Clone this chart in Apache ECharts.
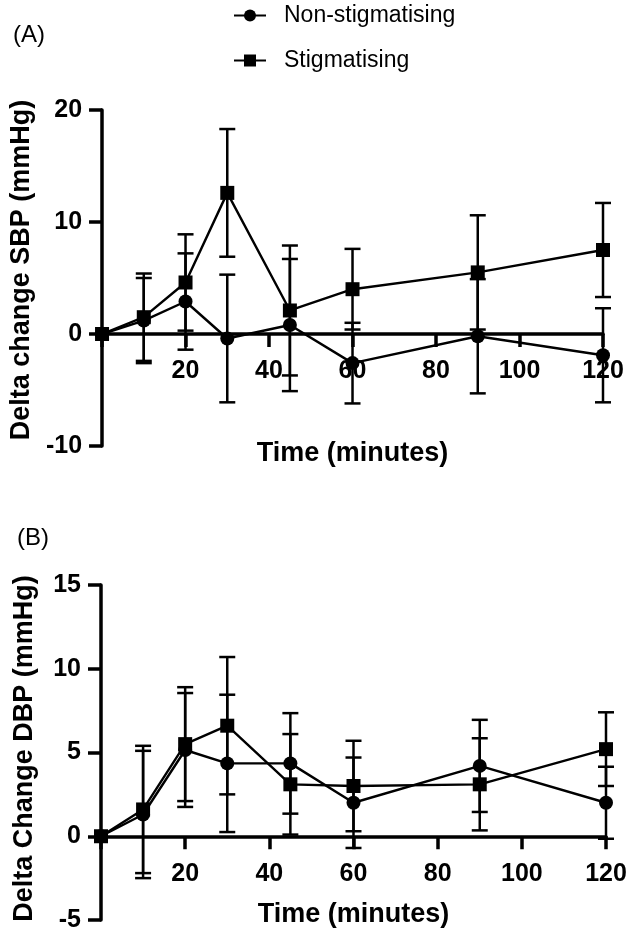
<!DOCTYPE html>
<html>
<head>
<meta charset="utf-8">
<script src="https://cdn.jsdelivr.net/npm/echarts@6/dist/echarts.min.js"></script>
<style>
  html, body { margin: 0; padding: 0; background: #fff; }
  #chart { width: 630px; height: 934px; }
</style>
</head>
<body>
<div id="chart"></div>
<script>
// time points (minutes)
const times = [0, 10, 20, 30, 45, 60, 90, 120]

// (A) delta SBP
const sbpNonStig = [0, 1.2, 2.9, -0.4, 0.8, -2.6, -0.2, -1.9]
const sbpNonStigErr = [0, 3.8, 4.3, 5.7, 5.9, 3.6, 5.1, 4.2]
const sbpStig = [0, 1.5, 4.6, 12.6, 2.1, 4.0, 5.5, 7.5]
const sbpStigErr = [0, 3.9, 4.3, 5.7, 5.8, 3.6, 5.1, 4.2]

// (B) delta DBP
const dbpNonStig = [0, 1.3, 5.15, 4.35, 4.35, 2.0, 4.2, 2.0]
const dbpNonStigErr = [0, 3.8, 3.4, 4.1, 3.0, 2.7, 2.75, 2.15]
const dbpStig = [0, 1.6, 5.5, 6.6, 3.1, 3.0, 3.1, 5.2]
const dbpStigErr = [0, 3.8, 3.4, 4.1, 3.0, 2.7, 2.75, 2.2]

const FONT = 'Liberation Sans'
const chart = echarts.init(document.getElementById('chart'))

const pairs = (vals) => times.map((t, i) => [t, vals[i]])
const errData = (vals, errs) => times
  .map((t, i) => [t, vals[i] - errs[i], vals[i] + errs[i]])
  .filter(d => d[2] > d[1])

const renderErr = (params, api) => {
  const lo = api.coord([api.value(0), api.value(1)])
  const hi = api.coord([api.value(0), api.value(2)])
  const w = 8
  const style = { stroke: '#000', lineWidth: 2.5 }
  return {
    type: 'group',
    children: [
      { type: 'line', shape: { x1: lo[0], y1: lo[1], x2: hi[0], y2: hi[1] }, style },
      { type: 'line', shape: { x1: lo[0] - w, y1: lo[1], x2: lo[0] + w, y2: lo[1] }, style },
      { type: 'line', shape: { x1: hi[0] - w, y1: hi[1], x2: hi[0] + w, y2: hi[1] }, style }
    ]
  }
}

const axisLine = { lineStyle: { color: '#000', width: 3.5 } }
const axisTick = { length: 13, lineStyle: { color: '#000', width: 3.5 } }
const tickLabel = { color: '#000', fontFamily: FONT, fontWeight: 'bold', fontSize: 25 }
const nameStyle = { color: '#000', fontFamily: FONT, fontWeight: 'bold', fontSize: 27 }

// line + ticks on the zero line
const xAxisLine = (gridIndex) => ({
  type: 'value',
  gridIndex,
  position: 'bottom',
  min: 0,
  max: 120,
  interval: 20,
  axisLine: { ...axisLine, onZero: true },
  axisTick,
  axisLabel: { show: false },
  splitLine: { show: false }
})

// labels + title, shifted up from the grid bottom to the zero line
const xAxisText = (gridIndex, offset, gap) => ({
  type: 'value',
  gridIndex,
  position: 'bottom',
  min: 0,
  max: 120,
  interval: 20,
  offset,
  name: 'Time (minutes)',
  nameLocation: 'middle',
  nameGap: gap,
  nameTextStyle: nameStyle,
  axisLine: { show: false, onZero: false },
  axisTick: { show: false },
  axisLabel: { ...tickLabel, margin: 25, showMinLabel: false },
  splitLine: { show: false }
})

const yAxisFor = (gridIndex, min, max, interval, name, shift) => ({
  type: 'value',
  gridIndex,
  min,
  max,
  interval,
  name,
  nameLocation: 'middle',
  nameRotate: 90,
  nameGap: 63,
  nameTextStyle: { ...nameStyle, padding: [0, 0, 0, shift] },
  axisLine: { show: true, ...axisLine },
  axisTick: { show: true, ...axisTick },
  axisLabel: { ...tickLabel, margin: 20 },
  splitLine: { show: false }
})

const lineSeries = (name, symbol, data, idx) => ({
  name,
  type: 'line',
  xAxisIndex: idx,
  yAxisIndex: idx,
  data,
  symbol,
  symbolSize: 14,
  itemStyle: { color: '#000' },
  lineStyle: { color: '#000', width: 2.4 },
  z: 3
})

const errSeries = (data, idx) => ({
  type: 'custom',
  xAxisIndex: idx,
  yAxisIndex: idx,
  data,
  renderItem: renderErr,
  z: 2,
  silent: true
})

const option = {
  animation: false,
  title: [
    { text: '(A)', left: 8, top: 18, textStyle: { color: '#000', fontFamily: FONT, fontWeight: 'normal', fontSize: 24 } },
    { text: '(B)', left: 12, top: 521, textStyle: { color: '#000', fontFamily: FONT, fontWeight: 'normal', fontSize: 24 } }
  ],
  legend: {
    data: ['Non-stigmatising', 'Stigmatising'],
    orient: 'vertical',
    left: 233,
    top: 4,
    padding: 0,
    itemWidth: 32,
    itemHeight: 15,
    itemGap: 22,
    textStyle: { color: '#000', fontFamily: FONT, fontSize: 23, padding: [0, 0, 0, 13] }
  },
  grid: [
    { left: 98, width: 505, top: 110, height: 336 },
    { left: 101, width: 505, top: 585, height: 335 }
  ],
  xAxis: [
    xAxisLine(0),
    xAxisLine(1),
    xAxisText(0, -112, 106),
    xAxisText(1, -83.75, 65)
  ],
  yAxis: [
    yAxisFor(0, -10, 20, 10, 'Delta change SBP (mmHg)', 16),
    yAxisFor(1, -5, 15, 5, 'Delta Change DBP (mmHg)', 8)
  ],
  series: [
    errSeries(errData(sbpNonStig, sbpNonStigErr), 0),
    errSeries(errData(sbpStig, sbpStigErr), 0),
    lineSeries('Non-stigmatising', 'circle', pairs(sbpNonStig), 0),
    lineSeries('Stigmatising', 'rect', pairs(sbpStig), 0),
    errSeries(errData(dbpNonStig, dbpNonStigErr), 1),
    errSeries(errData(dbpStig, dbpStigErr), 1),
    lineSeries('Non-stigmatising', 'circle', pairs(dbpNonStig), 1),
    lineSeries('Stigmatising', 'rect', pairs(dbpStig), 1)
  ]
}

chart.setOption(option)
</script>
</body>
</html>
